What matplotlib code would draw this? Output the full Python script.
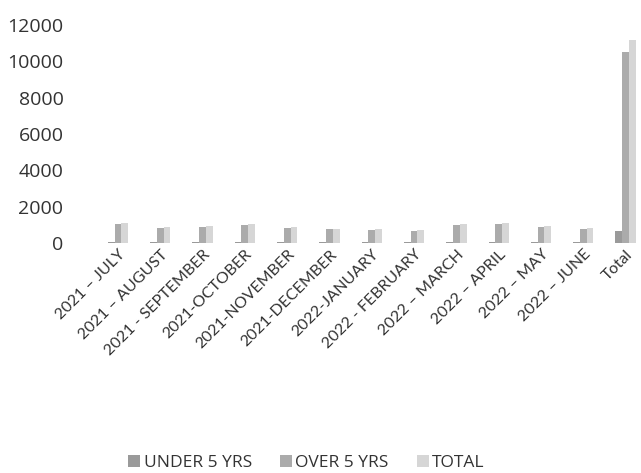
import numpy as np
import matplotlib
matplotlib.use("Agg")
import matplotlib.pyplot as plt

# Casos por mes, menores y mayores de 5 años
meses = ["2021 – JULY", "2021 – AUGUST", "2021 - SEPTEMBER", "2021-OCTOBER",
         "2021-NOVEMBER", "2021-DECEMBER", "2022-JANUARY", "2022 - FEBRUARY",
         "2022 – MARCH", "2022 – APRIL", "2022 – MAY", "2022 – JUNE", "Total"]
menores_5 = [60, 50, 45, 70, 60, 50, 55, 50, 65, 70, 60, 55, 690]
mayores_5 = [1030, 850, 900, 1000, 850, 750, 710, 660, 1000, 1050, 900, 800, 10500]
total = [1090, 900, 945, 1070, 910, 800, 765, 710, 1065, 1120, 960, 855, 11190]

series = [("UNDER 5 YRS", menores_5, "#9a9a9a"),
          ("OVER 5 YRS", mayores_5, "#ababab"),
          ("TOTAL", total, "#d6d6d6")]

fig = plt.figure(figsize=(6.41, 4.73), dpi=100)
ax = fig.add_axes([0.151, 0.486, 0.858, 0.461])

x = np.arange(len(meses))
ancho = 0.16
for i, (nombre, valores, color) in enumerate(series):
    ax.bar(x + (i - 1) * ancho, valores, ancho, color=color, label=nombre)

ax.set_xlim(-0.5, len(meses) - 0.5)
ax.set_ylim(0, 12000)
ax.set_yticks(range(0, 12001, 2000))
ax.set_xticks(x)
ax.set_xticklabels(meses, rotation=45, ha="right", rotation_mode="anchor")
for s in ax.spines.values():
    s.set_visible(False)
ax.tick_params(axis="y", length=0, labelsize=14, colors="#333333", pad=24)
ax.tick_params(axis="x", length=0, labelsize=11.5, colors="#333333", pad=3)
for lbl in ax.get_yticklabels():
    lbl.set_family("Open Sans")
for lbl in ax.get_xticklabels():
    lbl.set_family("Lato")

fig.legend(loc="center", bbox_to_anchor=(0.478, 0.022), ncol=3, frameon=False,
           handlelength=0.7, handleheight=0.7, handletextpad=0.2, columnspacing=1.6,
           prop={"family": "Open Sans", "size": 12.5}, labelcolor="#333333")

fig.savefig("out.png", dpi=100)
